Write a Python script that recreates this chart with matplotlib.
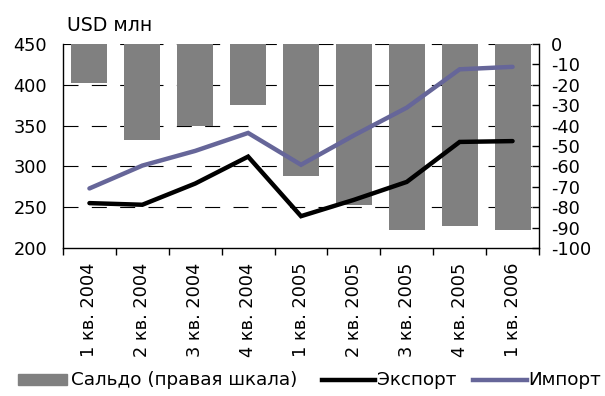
import matplotlib
matplotlib.use("Agg")
import matplotlib.pyplot as plt
import numpy as np
from matplotlib.lines import Line2D
from matplotlib.patches import Rectangle

plt.rcParams['font.family'] = ['DejaVu Sans']

quarters = ["1 кв. 2004", "2 кв. 2004", "3 кв. 2004", "4 кв. 2004",
            "1 кв. 2005", "2 кв. 2005", "3 кв. 2005", "4 кв. 2005",
            "1 кв. 2006"]
export = [255, 253, 279, 312, 239, 259, 281, 330, 331]
imports = [273, 301, 319, 341, 302, 338, 372, 419, 422]
balance = [-19, -47, -40, -30, -64.5, -79, -91, -89, -91]

left_ticks = [200, 250, 300, 350, 400, 450]
right_ticks = list(range(0, -101, -10))

GREY = "#808080"
BLACK = "#000000"
PURPLE = "#666699"
FS = 12.8
FS_LEG = 13.2
W, H = 605, 396

fig = plt.figure(figsize=(W / 100, H / 100), dpi=100)
ax = fig.add_axes([63 / W, 1 - 248 / H, 476 / W, 204 / H])
ax2 = ax.twinx()
# lines axis on top, bars axis underneath
ax.set_zorder(ax2.get_zorder() + 1)
ax.patch.set_visible(False)

x = np.arange(len(quarters))

# dashed grid (in right-scale units, so it sits under the bars)
for v in [0, -20, -40, -60, -80]:
    ax2.axhline(v, color=BLACK, lw=0.8, ls=(0, (13.5, 12)), zorder=0)
ax2.bar(x, balance, width=0.68, color=GREY, zorder=2)
ax2.set_ylim(-100, 0)
ax2.set_yticks(right_ticks)
ax2.set_yticklabels([str(t) for t in right_ticks], fontsize=FS)
ax2.tick_params(axis='y', direction='in', length=5, width=1, pad=8.5)

ax.plot(x, export, color=BLACK, lw=3.2, solid_capstyle='round', solid_joinstyle='miter')
ax.plot(x, imports, color=PURPLE, lw=3.2, solid_capstyle='round', solid_joinstyle='miter')
ax.set_ylim(200, 450)
ax.set_xlim(-0.5, len(quarters) - 0.5)
ax.set_yticks(left_ticks)
ax.set_yticklabels([str(t) for t in left_ticks], fontsize=FS)
ax.tick_params(axis='y', length=0, pad=11.5)

ax.set_xticks(np.arange(-0.5, len(quarters), 1.0))
ax.set_xticklabels([])
ax.set_xticks(x, minor=True)
ax.set_xticklabels(quarters, minor=True, rotation=90, fontsize=FS)
ax.tick_params(axis='x', which='major', direction='out', length=5, width=1)
ax.tick_params(axis='x', which='minor', length=0, pad=10.5)

for a in (ax, ax2):
    a.spines['top'].set_visible(False)
ax.spines['right'].set_visible(False)
ax2.spines['left'].set_visible(False)
ax2.spines['bottom'].set_visible(False)
for s in ['left', 'bottom']:
    ax.spines[s].set_linewidth(1)
ax2.spines['right'].set_linewidth(1)

fig.text(67 / W, 1 - 31 / H, "USD млн", fontsize=13.6, ha='left', va='baseline')

# legend row
ly = 1 - 380 / H
fig.patches.append(Rectangle((18 / W, 1 - 385 / H), 49 / W, 11 / H,
                             transform=fig.transFigure, color=GREY))
fig.text(71 / W, ly, "Сальдо (правая шкала)", fontsize=FS_LEG, ha='left', va='center')
fig.add_artist(Line2D([322 / W, 375 / W], [ly, ly], color=BLACK, lw=3.2,
                      transform=fig.transFigure))
fig.text(377 / W, ly, "Экспорт", fontsize=FS_LEG, ha='left', va='center')
fig.add_artist(Line2D([473 / W, 527 / W], [ly, ly], color=PURPLE, lw=3.2,
                      transform=fig.transFigure))
fig.text(528 / W, ly, "Импорт", fontsize=FS_LEG, ha='left', va='center')

fig.savefig("out.png", dpi=100)
